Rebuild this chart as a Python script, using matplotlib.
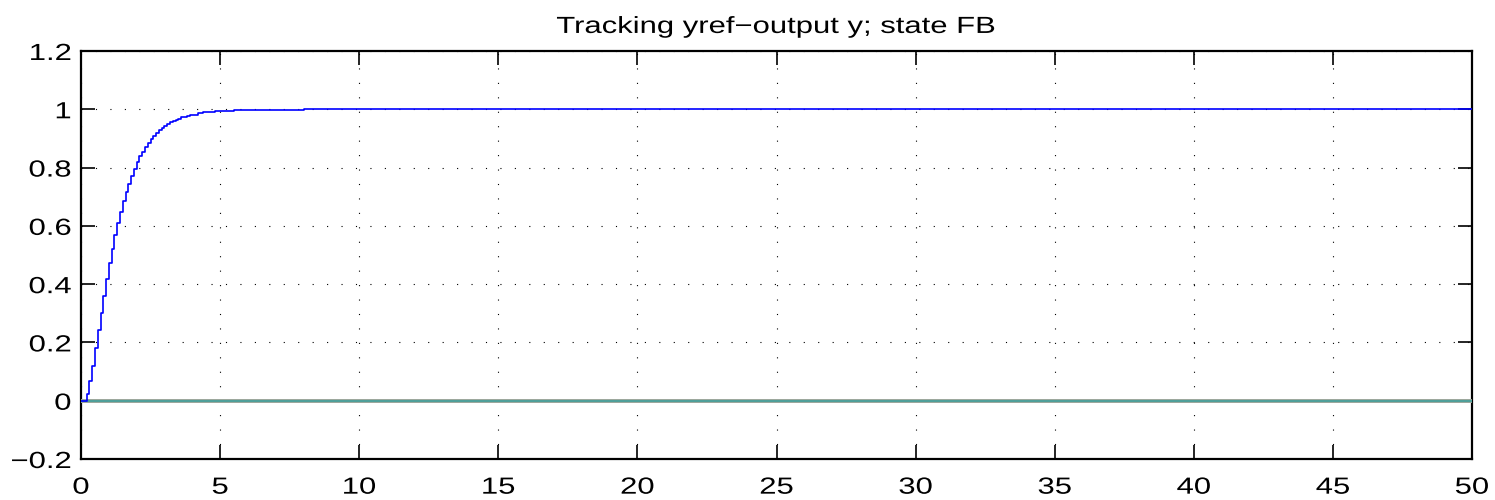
import numpy as np
import matplotlib.pyplot as plt
from matplotlib.patheffects import AbstractPathEffect
from matplotlib.transforms import Affine2D

plt.rcParams['font.family'] = ['Liberation Sans', 'DejaVu Sans']

# sampled output y (zero-order hold, Ts = 0.1 during the transient)
t_samples = [0.0, 0.1, 0.2, 0.3, 0.4, 0.5, 0.6, 0.7, 0.8, 0.9,
             1.0, 1.1, 1.2, 1.3, 1.4, 1.5, 1.6, 1.7, 1.8, 1.9,
             2.0, 2.1, 2.2, 2.3, 2.4, 2.5, 2.6, 2.7, 2.8, 2.9,
             3.0, 3.1, 3.2, 3.3, 3.4, 3.5, 3.6, 3.7, 3.8, 3.9,
             4.0, 4.2, 4.4, 4.6, 4.8, 5.0, 5.5, 6.0, 7.0, 8.0, 50.0]
y_out = [0.0, 0.0, 0.023, 0.068, 0.120, 0.180, 0.242, 0.302, 0.360, 0.418,
         0.473, 0.521, 0.568, 0.611, 0.649, 0.685, 0.716, 0.745, 0.772, 0.796,
         0.819, 0.839, 0.855, 0.871, 0.886, 0.898, 0.909, 0.919, 0.928, 0.936,
         0.943, 0.949, 0.955, 0.960, 0.964, 0.968, 0.972, 0.975, 0.978, 0.980,
         0.982, 0.986, 0.989, 0.991, 0.993, 0.995, 0.997, 0.998, 0.999, 1.0, 1.0]

# second trace stays at zero over the whole run
t_zero = [0.0, 50.0]
y_zero = [0.0, 0.0]

xticks = [0, 5, 10, 15, 20, 25, 30, 35, 40, 45, 50]
yticks = [-0.2, 0, 0.2, 0.4, 0.6, 0.8, 1, 1.2]
ytick_labels = ['\u22120.2', '0', '0.2', '0.4', '0.6', '0.8', '1', '1.2']


class Widen(AbstractPathEffect):
    """Stretch glyphs horizontally about their centre or right edge."""

    def __init__(self, sx, anchor='center'):
        super().__init__()
        self.sx = sx
        self.anchor = anchor

    def draw_path(self, renderer, gc, tpath, affine, rgbFace=None):
        ext = tpath.get_extents()
        x0 = ext.x1 if self.anchor == 'right' else 0.5 * (ext.x0 + ext.x1)
        stretch = Affine2D().translate(-x0, 0).scale(self.sx, 1).translate(x0, 0)
        renderer.draw_path(gc, tpath, stretch + affine, rgbFace)


SX = 1.33
FS = 16.8

fig = plt.figure(figsize=(14.95, 5), dpi=100)
ax = fig.add_axes([0.0542, 0.082, 0.9304, 0.816])

ax.plot(t_zero, y_zero, color='#98a498', lw=2.8, solid_capstyle='butt', zorder=3)
ax.plot(t_zero, y_zero, color='#3a9e9a', lw=1.1, solid_capstyle='butt', zorder=4)
ax.step(t_samples, y_out, where='post', color='#0000ff', lw=1.2, zorder=5)

ax.set_xlim(0, 50)
ax.set_ylim(-0.2, 1.2)
ax.set_xticks(xticks)
ax.set_xticklabels([str(v) for v in xticks])
ax.set_yticks(yticks)
ax.set_yticklabels(ytick_labels)

ax.grid(True, color='black', linestyle=(0, (1, 12)), linewidth=0.8)
ax.tick_params(direction='in', length=10, width=1.2, labelsize=FS,
               top=True, right=True)
ax.tick_params(axis='x', pad=12)
ax.tick_params(axis='y', pad=7)
for s in ax.spines.values():
    s.set_linewidth(1.6)

for lab in ax.get_xticklabels():
    lab.set_path_effects([Widen(SX, 'center')])
for lab in ax.get_yticklabels():
    lab.set_path_effects([Widen(SX, 'right')])

title = ax.set_title('Tracking yref\u2212output y; state FB', fontsize=FS, pad=13)
title.set_path_effects([Widen(SX, 'center')])

fig.savefig('out.png', dpi=100)
